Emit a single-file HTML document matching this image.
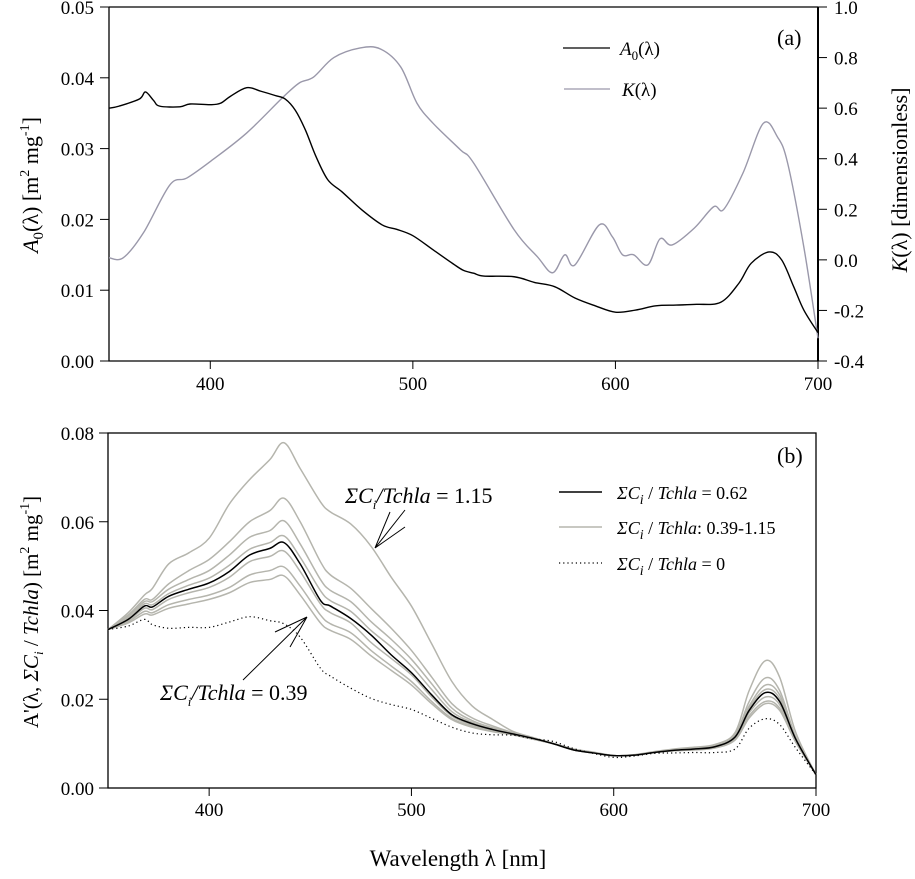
<!DOCTYPE html>
<html><head><meta charset="utf-8"><style>
body{margin:0;background:#fff;}
svg text{font-family:"Liberation Serif",serif;fill:#000;}
</style></head><body>
<svg id="chart" width="915" height="874" xmlns="http://www.w3.org/2000/svg"></svg>
<script>
// ---- data ----
const lamA = [350,355,365,368,372,375,385,390,400,405,410,418,425,432,437,442,447,452,458,465,475,485,492,500,510,520,525,530,535,550,560,570,580,590,600,610,620,630,640,652,661,667,675.8,682,688,693,700];
const a0Vals = [0.0357,0.036,0.037,0.038,0.0368,0.036,0.0359,0.0363,0.0362,0.0364,0.0374,0.0386,0.0381,0.0375,0.037,0.0354,0.0326,0.029,0.0256,0.0239,0.0213,0.0192,0.0186,0.0177,0.0157,0.0137,0.0128,0.0124,0.012,0.0119,0.0111,0.0105,0.0089,0.0078,0.0069,0.0072,0.0078,0.0079,0.008,0.0083,0.011,0.0138,0.0154,0.0143,0.0105,0.0072,0.004];
const lamK = [350,357,367,380,388.5,401,418,436,444,451,461,474,484,494,502,510,523.5,530,550,561.5,569,575,580,592,598.5,603.5,609,616,622,628,639,648.5,653.5,663,673,680,685,693,700];
const kVals = [0.008,0.008,0.107,0.296,0.324,0.395,0.502,0.644,0.70,0.723,0.80,0.838,0.834,0.763,0.62,0.54,0.435,0.383,0.119,0.012,-0.051,0.02,-0.02,0.138,0.091,0.02,0.02,-0.02,0.083,0.059,0.126,0.21,0.20,0.344,0.54,0.486,0.383,0.051,-0.31];
const lamB = [350,360,368,372,380,390,400,410,420,430,437,445,455,460,470,480,490,500,510,520,530,540,550,560,570,580,590,600,610,620,630,640,650,660,667,675,682,690,700];
const dotVals = [0.0357,0.0365,0.038,0.0368,0.036,0.0362,0.0362,0.0374,0.0386,0.0377,0.037,0.034,0.027,0.0252,0.0225,0.0202,0.0188,0.0177,0.0157,0.0137,0.0124,0.012,0.0119,0.0111,0.0105,0.0089,0.0078,0.0069,0.0072,0.0078,0.0079,0.008,0.008,0.0088,0.0135,0.0156,0.0143,0.009,0.003];
const blackVals = [0.0357,0.038,0.041,0.0408,0.0432,0.0448,0.0462,0.0488,0.0525,0.054,0.0553,0.0505,0.0423,0.041,0.0382,0.0345,0.03,0.026,0.021,0.0165,0.0145,0.0132,0.0122,0.0112,0.01,0.0086,0.0079,0.0073,0.0074,0.008,0.0085,0.0088,0.0093,0.0115,0.0175,0.0215,0.0195,0.011,0.003];
const g1 = [0.0357,0.0395,0.0435,0.045,0.0505,0.053,0.0563,0.064,0.0695,0.074,0.0778,0.072,0.0645,0.0622,0.0595,0.0545,0.0475,0.041,0.0325,0.024,0.0185,0.0155,0.0128,0.0114,0.0101,0.0088,0.0081,0.0073,0.0075,0.0082,0.0088,0.0092,0.0098,0.0125,0.022,0.0287,0.025,0.0125,0.003];
const g2 = [0.0357,0.039,0.0425,0.0425,0.046,0.049,0.0515,0.0555,0.06,0.0625,0.0653,0.06,0.051,0.048,0.045,0.0405,0.036,0.031,0.025,0.019,0.0158,0.014,0.0125,0.0113,0.01,0.0088,0.008,0.0073,0.0074,0.0081,0.0087,0.009,0.0096,0.012,0.0195,0.0248,0.022,0.0115,0.003];
const g3 = [0.0357,0.0387,0.042,0.042,0.0448,0.047,0.049,0.0525,0.0565,0.058,0.0602,0.055,0.047,0.0445,0.042,0.0375,0.0335,0.029,0.0235,0.018,0.0152,0.0136,0.0124,0.0112,0.01,0.0087,0.008,0.0073,0.0074,0.0081,0.0086,0.0089,0.0095,0.0118,0.0185,0.0232,0.021,0.0113,0.003];
const g4 = [0.0357,0.0383,0.0415,0.0413,0.0438,0.0457,0.0473,0.0502,0.0538,0.0553,0.0568,0.052,0.0445,0.0422,0.0398,0.0355,0.0318,0.0275,0.0222,0.0172,0.0148,0.0134,0.0123,0.0112,0.01,0.0086,0.0079,0.0073,0.0074,0.008,0.0085,0.0088,0.0094,0.0117,0.018,0.0222,0.0202,0.0112,0.003];
const g6 = [0.0357,0.0378,0.0405,0.0402,0.0425,0.044,0.0452,0.0475,0.051,0.0522,0.0534,0.0488,0.0415,0.0395,0.0372,0.0328,0.0292,0.0255,0.0205,0.0162,0.0142,0.013,0.0121,0.0111,0.01,0.0086,0.0079,0.0073,0.0074,0.008,0.0085,0.0087,0.0092,0.0113,0.017,0.0205,0.0188,0.0108,0.003];
const g7 = [0.0357,0.0375,0.0398,0.0395,0.0413,0.0425,0.0435,0.0452,0.048,0.049,0.0498,0.0455,0.039,0.037,0.035,0.031,0.0275,0.024,0.0195,0.0157,0.0139,0.0128,0.012,0.011,0.01,0.0086,0.0079,0.0073,0.0074,0.008,0.0084,0.0086,0.0091,0.011,0.0163,0.0195,0.018,0.0105,0.003];
const g8 = [0.0357,0.0372,0.0392,0.039,0.0405,0.0415,0.0425,0.044,0.0463,0.047,0.0478,0.0435,0.0372,0.0355,0.0335,0.0298,0.0265,0.0232,0.019,0.0154,0.0137,0.0127,0.012,0.011,0.01,0.0086,0.0079,0.0073,0.0074,0.008,0.0084,0.0086,0.009,0.0108,0.0158,0.019,0.0175,0.0103,0.003];
const xTicks = [400,500,600,700];
const yTicksA = ["0.00","0.01","0.02","0.03","0.04","0.05"];
const yTicksK = ["-0.4","-0.2","0.0","0.2","0.4","0.6","0.8","1.0"];
const yTicksB = ["0.00","0.02","0.04","0.06","0.08"];

const NS="http://www.w3.org/2000/svg";
const svg=document.getElementById('chart');
function mk(tag,attrs,parent){const e=document.createElementNS(NS,tag);for(const k in attrs)e.setAttribute(k,attrs[k]);(parent||svg).appendChild(e);return e;}
// axis functions
const PA={l:109,r:818,t:7,b:361}, PB={l:108,r:816,t:433,b:788};
const xA=v=>PA.l+(v-350)/350*(PA.r-PA.l);
const yA=v=>PA.b-v/0.05*(PA.b-PA.t);
const yK=v=>PA.b-(v+0.4)/1.4*(PA.b-PA.t);
const xB=v=>PB.l+(v-350)/350*(PB.r-PB.l);
const yB=v=>PB.b-v/0.08*(PB.b-PB.t);
function smooth(xs,ys,fx,fy){
  const p=xs.map((x,i)=>[fx(x),fy(ys[i])]);
  let d='M'+p[0][0].toFixed(2)+','+p[0][1].toFixed(2);
  for(let i=0;i<p.length-1;i++){
    const p0=p[i-1]||p[i],p1=p[i],p2=p[i+1],p3=p[i+2]||p[i+1];
    const c1=[p1[0]+(p2[0]-p0[0])/6,p1[1]+(p2[1]-p0[1])/6];
    const c2=[p2[0]-(p3[0]-p1[0])/6,p2[1]-(p3[1]-p1[1])/6];
    d+=' C'+c1.map(v=>v.toFixed(2))+' '+c2.map(v=>v.toFixed(2))+' '+p2.map(v=>v.toFixed(2));
  }
  return d;
}
function txt(x,y,s,size,anchor,name){const t=mk('text',{x:x,y:y,'font-size':size,'text-anchor':anchor||'start'});t.innerHTML=s;return t;}

// ---- panel a ----
const ga=mk('g',{});


mk('path',{d:`M${PA.l},${PA.t}H${PA.r}M${PA.l},${PA.t}V${PA.b}H${PA.r}`,stroke:'#000','stroke-width':1.3,fill:'none'},ga);
mk('line',{x1:PA.r,y1:PA.t,x2:PA.r,y2:PA.b,stroke:'#000','stroke-width':2},ga);
yTicksA.forEach(s=>{const y=yA(+s);mk('line',{x1:PA.l-9,y1:y,x2:PA.l,y2:y,stroke:'#000'},ga);txt(94,y+7,s,19,'end','y-tick-a');});
yTicksK.forEach(s=>{const y=yK(+s);mk('line',{x1:PA.r,y1:y,x2:PA.r+9,y2:y,stroke:'#000'},ga);txt(834,y+7,s,19,'start','y-tick-k');});
xTicks.forEach(v=>{const x=xA(v);mk('line',{x1:x,y1:PA.b,x2:x,y2:PA.b+8,stroke:'#000'},ga);txt(x,390,v,19,'middle','x-tick-a');});
const kp=mk('path',{d:smooth(lamK,kVals,xA,yK),stroke:'#9a98aa','stroke-width':1.4,fill:'none'},ga);


const ap=mk('path',{d:smooth(lamA,a0Vals,xA,yA),stroke:'#000','stroke-width':1.4,fill:'none'},ga);


mk('line',{x1:563,y1:48,x2:610,y2:48,stroke:'#000','stroke-width':1.3},ga);
mk('line',{x1:564,y1:89,x2:610,y2:89,stroke:'#9a98aa','stroke-width':1.3},ga);
txt(620,55,'<tspan font-style="italic">A</tspan><tspan font-size="13" dy="5">0</tspan><tspan dy="-5">(λ)</tspan>',19,'start','legend-a0');
txt(622,96,'<tspan font-style="italic">K</tspan>(λ)',19,'start','legend-k');
txt(777,45,'(a)',22,'start','panel-label-a');
txt(0,0,'<tspan font-style="italic">A</tspan><tspan font-size="15" dy="5">0</tspan><tspan dy="-5">(λ) [m</tspan><tspan font-size="14" dy="-9">2</tspan><tspan dy="9"> mg</tspan><tspan font-size="14" dy="-9">-1</tspan><tspan dy="9">]</tspan>',22,'middle','y-axis-title-a').setAttribute('transform','translate(38,185) rotate(-90)');
txt(0,0,'<tspan font-style="italic">K</tspan>(λ) [dimensionless]',22,'middle','y-axis-title-k').setAttribute('transform','translate(907,180) rotate(-90)');

// ---- panel b ----
const gb=mk('g',{});


mk('rect',{x:PB.l,y:PB.t,width:PB.r-PB.l,height:PB.b-PB.t,stroke:'#000','stroke-width':1.3,fill:'none'},gb);
yTicksB.forEach(s=>{const y=yB(+s);mk('line',{x1:PB.l-9,y1:y,x2:PB.l,y2:y,stroke:'#000'},gb);txt(94,y+7,s,19,'end','y-tick-b');});
xTicks.forEach(v=>{const x=xB(v);mk('line',{x1:x,y1:PB.b,x2:x,y2:PB.b+8,stroke:'#000'},gb);txt(x,816,v,19,'middle','x-tick-b');});
[g1,g2,g3,g4,g6,g7,g8].forEach((arr,i)=>{
  const p=mk('path',{d:smooth(lamB,arr,xB,yB),stroke:'#b5b5ad','stroke-width':1.5,fill:'none'},gb);
  
  
});
const dp=mk('path',{d:smooth(lamB,dotVals,xB,yB),stroke:'#000','stroke-width':1.2,'stroke-dasharray':'1.2 3',fill:'none'},gb);


const bp=mk('path',{d:smooth(lamB,blackVals,xB,yB),stroke:'#000','stroke-width':1.5,fill:'none'},gb);


// annotations
mk('path',{d:'M405,510L375,548M405,527L375,548M390,512L375,548',stroke:'#000','stroke-width':1,fill:'none'},gb);
mk('path',{d:'M275,632L307,617M290,647L307,617M243,680L307,617',stroke:'#000','stroke-width':1,fill:'none'},gb);
txt(345,503,'<tspan font-style="italic">ΣC</tspan><tspan font-size="13" dy="6" font-style="italic">i</tspan><tspan dy="-6" font-style="italic">/Tchla</tspan> = 1.15',22,'start','annotation-115');
txt(160,700,'<tspan font-style="italic">ΣC</tspan><tspan font-size="13" dy="6" font-style="italic">i</tspan><tspan dy="-6" font-style="italic">/Tchla</tspan> = 0.39',22,'start','annotation-039');
mk('line',{x1:559,y1:492,x2:602,y2:492,stroke:'#000','stroke-width':1.5},gb);
mk('line',{x1:559,y1:527,x2:602,y2:527,stroke:'#b5b5ad','stroke-width':1.5},gb);
mk('line',{x1:559,y1:563,x2:602,y2:563,stroke:'#000','stroke-width':1.2,'stroke-dasharray':'1.2 3'},gb);
txt(617,499,'<tspan font-style="italic">ΣC</tspan><tspan font-size="14" dy="5" font-style="italic">i</tspan><tspan dy="-5"> / </tspan><tspan font-style="italic">Tchla</tspan> = 0.62',18,'start','legend-062');
txt(617,534,'<tspan font-style="italic">ΣC</tspan><tspan font-size="14" dy="5" font-style="italic">i</tspan><tspan dy="-5"> / </tspan><tspan font-style="italic">Tchla</tspan>: 0.39-1.15',18,'start','legend-range');
txt(617,570,'<tspan font-style="italic">ΣC</tspan><tspan font-size="14" dy="5" font-style="italic">i</tspan><tspan dy="-5"> / </tspan><tspan font-style="italic">Tchla</tspan> = 0',18,'start','legend-zero');
txt(777,463,'(b)',22,'start','panel-label-b');
txt(0,0,'A\'(λ, <tspan font-style="italic">ΣC</tspan><tspan font-size="13" dy="5" font-style="italic">i</tspan><tspan dy="-5"> / </tspan><tspan font-style="italic">Tchla</tspan>) [m<tspan font-size="14" dy="-9">2</tspan><tspan dy="9"> mg</tspan><tspan font-size="14" dy="-9">-1</tspan><tspan dy="9">]</tspan>',21,'middle','y-axis-title-b').setAttribute('transform','translate(38,612) rotate(-90)');
txt(458,866,'Wavelength λ [nm]',23,'middle','x-axis-title');
</script>
</body></html>
